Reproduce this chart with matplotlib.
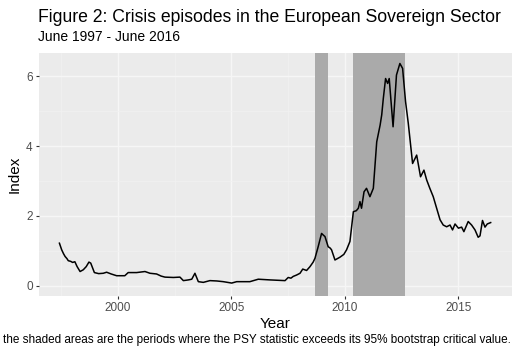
import numpy as np
import matplotlib
matplotlib.use("Agg")
import matplotlib.pyplot as plt
from matplotlib.ticker import MultipleLocator

plt.rcParams["font.family"] = ["Liberation Sans", "DejaVu Sans"]

# ------------------------------------------------------------------ #
# Data
# ------------------------------------------------------------------ #
years = [
    1997.42, 1997.52, 1997.60, 1997.67, 1997.75, 1997.81, 1997.92, 1998.00,
    1998.10, 1998.20, 1998.33, 1998.47, 1998.60, 1998.72, 1998.80, 1998.96,
    1999.15, 1999.35, 1999.50, 1999.70, 1999.94, 2000.30, 2000.45, 2000.82,
    2001.19, 2001.41, 2001.70, 2001.90, 2002.07, 2002.44, 2002.73, 2002.88,
    2003.10, 2003.25, 2003.39, 2003.54, 2003.76, 2004.05, 2004.35, 2004.64,
    2005.01, 2005.23, 2005.81, 2006.18, 2006.70, 2007.36, 2007.50, 2007.62,
    2007.72, 2007.87, 2008.02, 2008.14, 2008.31, 2008.46, 2008.60, 2008.68,
    2008.82, 2008.97, 2009.05, 2009.12, 2009.26, 2009.35, 2009.41, 2009.56,
    2009.78, 2009.95, 2010.07, 2010.22, 2010.37, 2010.50, 2010.59, 2010.66,
    2010.73, 2010.84, 2010.95, 2011.10, 2011.25, 2011.40, 2011.55, 2011.62,
    2011.69, 2011.79, 2011.88, 2011.95, 2012.12, 2012.27, 2012.42, 2012.54,
    2012.67, 2012.79, 2012.98, 2013.16, 2013.33, 2013.48, 2013.60, 2013.74,
    2013.89, 2014.04, 2014.19, 2014.33, 2014.48, 2014.63, 2014.74, 2014.85,
    2015.00, 2015.14, 2015.24, 2015.43, 2015.58, 2015.73, 2015.87, 2015.95,
    2016.06, 2016.17, 2016.27, 2016.42,
]
index_values = [
    1.22, 1.03, 0.92, 0.84, 0.78, 0.72, 0.70, 0.67,
    0.69, 0.55, 0.41, 0.46, 0.55, 0.68, 0.65, 0.38,
    0.35, 0.36, 0.39, 0.34, 0.29, 0.29, 0.38, 0.38,
    0.41, 0.36, 0.34, 0.28, 0.25, 0.24, 0.25, 0.15,
    0.17, 0.19, 0.36, 0.12, 0.10, 0.15, 0.14, 0.12,
    0.08, 0.12, 0.12, 0.19, 0.17, 0.15, 0.24, 0.22,
    0.27, 0.31, 0.36, 0.48, 0.44, 0.55, 0.68, 0.79,
    1.12, 1.50, 1.45, 1.41, 1.12, 1.08, 1.03, 0.74,
    0.82, 0.90, 1.03, 1.27, 2.12, 2.15, 2.22, 2.41,
    2.22, 2.69, 2.79, 2.55, 2.79, 4.12, 4.60, 4.89,
    5.36, 5.93, 5.79, 5.93, 4.55, 6.03, 6.36, 6.22,
    5.27, 4.65, 3.50, 3.74, 3.12, 3.31, 3.03, 2.79,
    2.55, 2.22, 1.89, 1.74, 1.69, 1.74, 1.60, 1.77,
    1.65, 1.68, 1.55, 1.84, 1.74, 1.60, 1.39, 1.43,
    1.87, 1.68, 1.77, 1.81,
]

# crisis episodes (start, end) in decimal years
episode_starts = [2008.68, 2010.35]
episode_ends = [2009.25, 2012.63]

x_ticks = [2000, 2005, 2010, 2015]
y_ticks = [0, 2, 4, 6]

# ------------------------------------------------------------------ #
# Figure
# ------------------------------------------------------------------ #
fig = plt.figure(figsize=(5.19, 3.57), dpi=100)
ax = fig.add_axes([39 / 519, 1 - 296 / 357, (512 - 39) / 519, (296 - 53) / 357])

ax.set_facecolor("#ebebeb")
for s in ax.spines.values():
    s.set_visible(False)

ax.set_xlim(1996.52, 2017.36)
ax.set_ylim(-0.29, 6.66)
ax.set_xticks(x_ticks)
ax.set_yticks(y_ticks)
ax.xaxis.set_minor_locator(MultipleLocator(2.5))
ax.yaxis.set_minor_locator(MultipleLocator(1))
ax.grid(which="major", color="#f6f6f6", linewidth=1.0)
ax.grid(which="minor", color="#f1f1f1", linewidth=0.5)
ax.set_axisbelow(True)

ax.tick_params(which="major", length=2.5, width=0.8, color="#333333",
               labelsize=8.5, labelcolor="#4d4d4d", pad=2)
ax.tick_params(which="minor", length=0)

for x0, x1 in zip(episode_starts, episode_ends):
    ax.axvspan(x0, x1, color="#aaaaaa", lw=0, zorder=1)

ax.plot(years, index_values, color="black", lw=1.1, zorder=3)

ax.set_xlabel("Year", fontsize=11, labelpad=2)
ax.set_ylabel("Index", fontsize=11, labelpad=3)

fig.text(38 / 519, 1 - 18 / 357, "Figure 2: Crisis episodes in the European Sovereign Sector",
         fontsize=12.7, ha="left", va="center")
fig.text(38 / 519, 1 - 37 / 357, "June 1997 - June 2016",
         fontsize=10, ha="left", va="center")
fig.text(511 / 519, 1 - 340 / 357,
         "the shaded areas are the periods where the PSY statistic exceeds its 95% bootstrap critical value.",
         fontsize=8.45, ha="right", va="center")

fig.savefig("out.png", dpi=100)
